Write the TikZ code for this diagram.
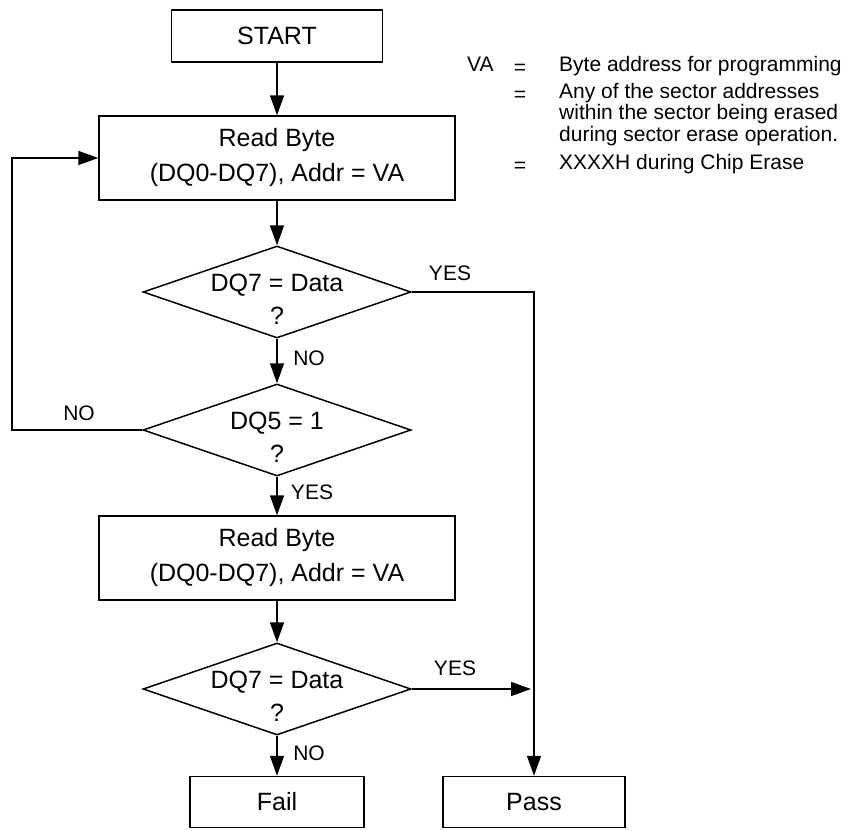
\documentclass[tikz,border=0pt]{standalone}
\usepackage{fontspec}
\setmainfont{Liberation Sans}
\usetikzlibrary{shapes.geometric,arrows.meta}
\begin{document}
\begin{tikzpicture}[x=1pt,y=-1pt,
    box/.style={draw, line width=1.5pt, inner sep=0pt, align=center,
      font=\fontsize{25}{35}\selectfont},
    decision/.style={draw, diamond, line width=1.5pt, inner sep=0pt,
      minimum width=268pt, minimum height=92pt},
    dtext/.style={align=center, yshift=-7pt, font=\fontsize{25}{33}\selectfont},
    flow/.style={line width=1.5pt, -{Triangle[length=20pt,width=14pt]}},
    tag/.style={font=\fontsize{21}{21}\selectfont},
    legend/.style={font=\fontsize{21}{21}\selectfont, inner sep=0pt}]
      \useasboundingbox (0,0) rectangle (851,830);

      % Draw the boxes of the main column
      \node[box, minimum width=211pt, minimum height=52pt] (start) at (277,36) {START};
      \node[box, minimum width=356pt, minimum height=84pt] (read1) at (277,158)
        {Read Byte\\(DQ0-DQ7), Addr = VA};
      \node[decision, label={[dtext]center:DQ7 = Data\\?}] (dq7a) at (277,292) {};
      \node[decision, label={[dtext]center:DQ5 = 1\\?}] (dq5) at (277,430) {};
      \node[box, minimum width=356pt, minimum height=84pt] (read2) at (277,558)
        {Read Byte\\(DQ0-DQ7), Addr = VA};
      \node[decision, label={[dtext]center:DQ7 = Data\\?}] (dq7b) at (277,689) {};
      \node[box, minimum width=174pt, minimum height=51pt] (fail) at (277,802) {Fail};
      \node[box, minimum width=182pt, minimum height=51pt] (pass) at (534,802) {Pass};
      \coordinate (loop) at (12,430);

      % Draw the connectors
      \draw[flow] (start) -- (read1);
      \draw[flow] (read1) -- (dq7a);
      \draw[flow] (dq7a) -- (dq5);
      \draw[flow] (dq5) -- (read2);
      \draw[flow] (read2) -- (dq7b);
      \draw[flow] (dq7b) -- (fail);
      \draw[flow] (dq7a.east) -| (pass.north);
      \draw[flow, shorten >=3pt] (dq7b.east) -- (dq7b.east -| pass.north);
      \draw[flow] (dq5.west) -- (loop) |- (read1.west);

      % Add the YES / NO tags
      \node[tag] (no1) at (309,358) {NO};
      \node[tag] (yes1) at (450,273) {YES};
      \node[tag] (no2) at (79,413) {NO};
      \node[tag] (yes2) at (312,492) {YES};
      \node[tag] (yes3) at (455,668) {YES};
      \node[tag] (no3) at (309,753) {NO};

      % Add the legend for VA
      \node[legend, anchor=mid west] (va) at (467,69) {VA};
      \foreach \y [count=\i] in {69, 96, 167} {
          \node[legend] (eq\i) at (520,\y) {=};
      }
      \foreach \y/\t [count=\i] in {69/Byte address for programming,
          96/Any of the sector addresses, 117/within the sector being erased,
          139/during sector erase operation., 167/XXXXH during Chip Erase} {
          \node[legend, anchor=mid west] (line\i) at (559,\y) {\t};
      }

    \end{tikzpicture}
\end{document}
